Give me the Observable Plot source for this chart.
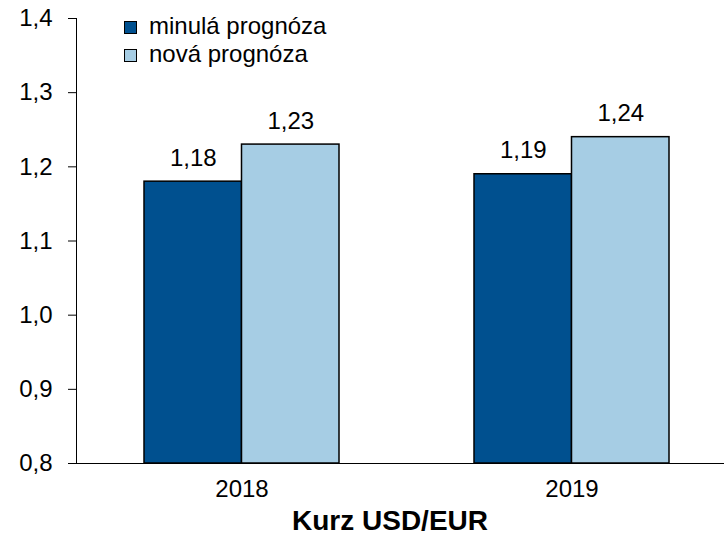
<!DOCTYPE html>
<html>
<head>
<meta charset="utf-8">
<script src="https://cdn.jsdelivr.net/npm/d3@7"></script>
<script src="https://cdn.jsdelivr.net/npm/@observablehq/plot@0.6"></script>
<style>
  body { margin: 0; background: #fff; font-family: "Liberation Sans", Arial, sans-serif; }
  #wrap { position: relative; width: 724px; height: 535px; overflow: hidden; }
  #chart svg { overflow: visible; display: block; }
  #legend { position: absolute; left: 124px; top: 13px; font-size: 24px; color: #000; }
  .row { display: flex; align-items: center; height: 28px; }
  .sw { width: 11px; height: 11px; border: 1px solid #000; margin-right: 12px; box-sizing: content-box; }
  .lbl { line-height: 28px; position: relative; top: -1px; }
  #title { text-align: center; font-weight: bold; font-size: 28px; line-height: 28px; margin-top: 0; padding-left: 56px; }
</style>
</head>
<body>
<div id="wrap">
  <div id="chart"></div>
  <div id="legend"></div>
  <div id="title">Kurz USD/EUR</div>
</div>
<script>
const years = ["2018", "2019"];
const seriesNames = ["minulá prognóza", "nová prognóza"];
const seriesColors = ["#00508F", "#A6CDE4"];
const minula = [1.18, 1.19];
const nova = [1.23, 1.24];
const yTicks = [0.8, 0.9, 1.0, 1.1, 1.2, 1.3, 1.4];
const axisTitle = "Kurz USD/EUR";

const comma = (v, n) => v.toFixed(n).replace(".", ",");

const rowsA = years.map((y, i) => ({year: y, series: seriesNames[0], value: minula[i]}));
const rowsB = years.map((y, i) => ({year: y, series: seriesNames[1], value: nova[i]}));

const xRange = [75.5, 736.5];
const padIn = 0.41, padOut = 0.205;
const bw = d3.scaleBand().domain(years).range(xRange).paddingInner(padIn).paddingOuter(padOut).bandwidth();
const half = bw / 2;

const plot = Plot.plot({
  width: 724,
  height: 507,
  marginTop: 18,
  marginBottom: 44,
  marginLeft: 76,
  marginRight: 0,
  style: {fontFamily: "'Liberation Sans', Arial, sans-serif", fontSize: "24px", color: "#000", background: "#fff", overflow: "visible"},
  x: {domain: years, range: xRange, paddingInner: padIn, paddingOuter: padOut, tickSize: 0, tickPadding: 16, label: null},
  y: {domain: [0.8, 1.4], ticks: yTicks, tickFormat: d => comma(d, 1), tickSize: 8, tickPadding: 16, label: null, line: true},
  marks: [
    Plot.barY(rowsA, {x: "year", y1: 0.8, y2: "value", fill: seriesColors[0], stroke: "#000", strokeWidth: 1.5, insetRight: half, insetLeft: 0}),
    Plot.barY(rowsB, {x: "year", y1: 0.8, y2: "value", fill: seriesColors[1], stroke: "#000", strokeWidth: 1.5, insetLeft: half, insetRight: 0}),
    Plot.text(rowsA, {x: "year", y: "value", text: d => comma(d.value, 2), dx: -bw / 4, dy: -16, lineAnchor: "bottom", fill: "#000"}),
    Plot.text(rowsB, {x: "year", y: "value", text: d => comma(d.value, 2), dx: bw / 4, dy: -16, lineAnchor: "bottom", fill: "#000"}),
    Plot.ruleY([0.8], {stroke: "#000", strokeWidth: 1})
  ]
});
document.getElementById("chart").appendChild(plot);
document.getElementById("title").textContent = axisTitle;

const legend = document.getElementById("legend");
seriesNames.forEach((name, i) => {
  const row = document.createElement("div");
  row.className = "row";
  const sw = document.createElement("span");
  sw.className = "sw";
  sw.style.background = seriesColors[i];
  const lbl = document.createElement("span");
  lbl.className = "lbl";
  lbl.textContent = name;
  row.appendChild(sw);
  row.appendChild(lbl);
  legend.appendChild(row);
});
</script>
</body>
</html>
